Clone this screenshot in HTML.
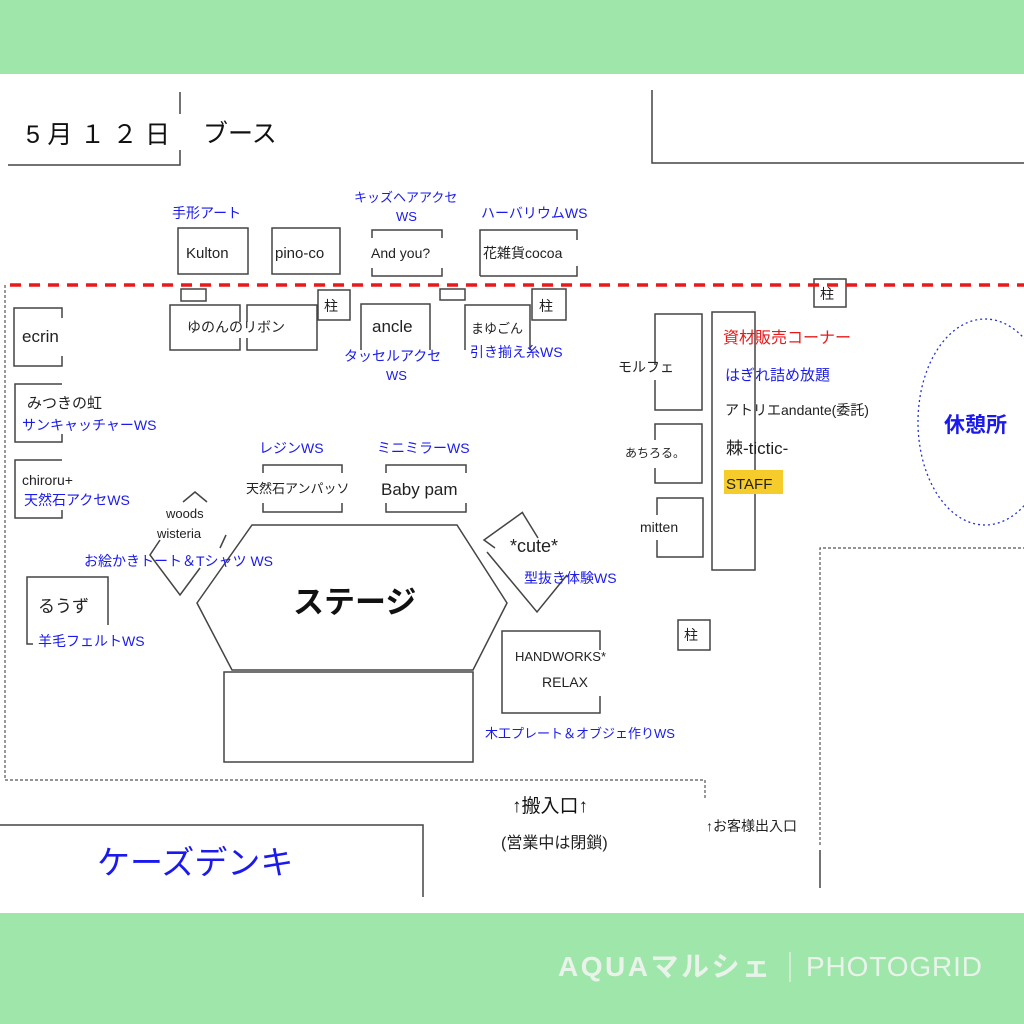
<!DOCTYPE html>
<html><head><meta charset="utf-8">
<style>
html,body{margin:0;padding:0;background:#fff;}
svg{display:block;}
text{font-family:"Liberation Sans","Noto Sans CJK JP",sans-serif;}
.b{fill:#1a1aee;font-size:14px;}
.k{fill:#222;font-size:15px;}
</style></head><body>
<svg width="1024" height="1024" viewBox="0 0 1024 1024" xmlns="http://www.w3.org/2000/svg">
<rect x="0" y="0" width="1024" height="74" fill="#9fe6ab"/>
<rect x="0" y="913" width="1024" height="111" fill="#9fe6ab"/>
<g stroke="#444" stroke-width="1.5" fill="none">
<polyline points="180,92 180,114"/><polyline points="180,150 180,165 8,165"/>
<polyline points="652,90 652,163 1024,163"/>
<rect x="178" y="228" width="70" height="46"/>
<rect x="272" y="228" width="68" height="46"/>
<polyline points="372,238 372,230 442,230 442,238"/><polyline points="372,268 372,276 442,276 442,268"/>
<polyline points="480,276 480,230 577,230 577,240"/><polyline points="577,266 577,276 480,276"/>
<rect x="181" y="289" width="25" height="12"/>
<rect x="440" y="289" width="25" height="11"/>
<polyline points="240,322 240,305 170,305 170,350 240,350 240,338"/>
<polyline points="247,322 247,305 317,305 317,350 247,350 247,338"/>
<rect x="318" y="290" width="32" height="30"/>
<polyline points="361,350 361,304 430,304 430,350"/>
<rect x="532" y="289" width="34" height="31"/>
<polyline points="465,350 465,305 530,305 530,350"/>
<rect x="814" y="279" width="32" height="28"/>
<polyline points="52,308 14,308 14,366 52,366"/><polyline points="52,308 62,308 62,318"/><polyline points="62,356 62,366 52,366"/>
<polyline points="62,384 15,384 15,442 62,442 62,434"/>
<polyline points="62,460 15,460 15,518 62,518 62,510"/>
<polyline points="108,625 108,577 27,577 27,644 33,644"/>
<polyline points="263,473 263,465 342,465 342,473"/><polyline points="263,503 263,512 342,512 342,503"/>
<polyline points="386,473 386,465 466,465 466,473"/><polyline points="386,503 386,512 466,512 466,503"/>
<polygon points="252,525 457,525 507,603 473,670 232,670 197,603"/>
<rect x="224" y="672" width="249" height="90" fill="#fff"/>
<polyline points="183,502 195,492 207,502"/>
<polyline points="160,540 150,555 180,595 200,568"/>
<polyline points="226,535 220,548"/>
<polyline points="523,512 484,540 495,548"/>
<polyline points="522,512 538,538"/>
<polyline points="487,552 537,612 567,575"/>
<polyline points="600,650 600,631 502,631 502,713 600,713 600,696"/>
<rect x="678" y="620" width="32" height="30"/>
<polyline points="655,365 655,314 702,314 702,410 655,410 655,380"/>
<polyline points="655,440 655,424 702,424 702,483 655,483 655,468"/>
<polyline points="657,515 657,498 703,498 703,557 657,557 657,540"/>
<rect x="712" y="312" width="43" height="258"/>
<polyline points="0,825 423,825 423,897"/>
<line x1="820" y1="850" x2="820" y2="888"/>
</g>
<line x1="10" y1="285" x2="1024" y2="285" stroke="#e8191a" stroke-width="3.5" stroke-dasharray="11,8"/>
<g stroke="#555" stroke-width="1.2" stroke-dasharray="3,2" fill="none">
<polyline points="5,285 5,780 705,780 705,800"/>
<polyline points="820,845 820,548 1024,548"/>
</g>
<ellipse cx="985" cy="422" rx="67" ry="103" fill="none" stroke="#2233cc" stroke-width="1.3" stroke-dasharray="2,3"/>
<rect x="724" y="470" width="59" height="24" fill="#f5cc2a"/>
<text x="26" y="143" textLength="144" style="font-size:25px;fill:#111">5月１２日</text>
<text x="203" y="142" style="font-size:25px;fill:#111">ブース</text>
<text class="b" x="172" y="218">手形アート</text>
<text class="b" x="354" y="202" style="font-size:13px">キッズヘアアクセ</text>
<text class="b" x="396" y="221" style="font-size:13px">WS</text>
<text class="b" x="481" y="218">ハーバリウムWS</text>
<text class="k" x="186" y="258">Kulton</text>
<text class="k" x="275" y="258">pino-co</text>
<text class="k" x="371" y="258" style="font-size:14px">And you?</text>
<text class="k" x="483" y="258" style="font-size:14px">花雑貨cocoa</text>
<text class="k" x="187" y="332" style="font-size:14px">ゆのんのリボン</text>
<text class="k" x="324" y="311" style="font-size:14px">柱</text>
<text class="k" x="372" y="332" style="font-size:17px">ancle</text>
<text class="k" x="539" y="311" style="font-size:14px">柱</text>
<text class="k" x="820" y="299" style="font-size:14px">柱</text>
<text class="k" x="471" y="333" style="font-size:13px">まゆごん</text>
<text class="b" x="344" y="361">タッセルアクセ</text>
<text class="b" x="386" y="380" style="font-size:13px">WS</text>
<text class="b" x="470" y="357">引き揃え糸WS</text>
<text class="k" x="22" y="342" style="font-size:17px">ecrin</text>
<text class="k" x="27" y="408">みつきの虹</text>
<text class="b" x="22" y="430">サンキャッチャーWS</text>
<text class="k" x="22" y="485" style="font-size:14px">chiroru+</text>
<text class="b" x="24" y="505">天然石アクセWS</text>
<text class="k" x="166" y="518" style="font-size:13px">woods</text>
<text class="k" x="157" y="538" style="font-size:13px">wisteria</text>
<text class="b" x="84" y="566">お絵かきトート＆Tシャツ WS</text>
<text class="k" x="38" y="612" style="font-size:17px">るうず</text>
<text class="b" x="38" y="646">羊毛フェルトWS</text>
<text class="b" x="259" y="453">レジンWS</text>
<text class="b" x="377" y="453">ミニミラーWS</text>
<text class="k" x="246" y="493" style="font-size:13px">天然石アンパッソ</text>
<text class="k" x="381" y="495" style="font-size:17px">Baby pam</text>
<text x="293" y="613" style="font-size:31px;font-weight:bold;fill:#111">ステージ</text>
<text class="k" x="510" y="552" style="font-size:18px">*cute*</text>
<text class="b" x="524" y="583">型抜き体験WS</text>
<text class="k" x="515" y="661" style="font-size:13px">HANDWORKS*</text>
<text class="k" x="542" y="687" style="font-size:14px">RELAX</text>
<text class="b" x="485" y="738" style="font-size:13px">木工プレート＆オブジェ作りWS</text>
<text class="k" x="684" y="640" style="font-size:14px">柱</text>
<text class="k" x="618" y="372" style="font-size:14px">モルフェ</text>
<text class="k" x="625" y="457" style="font-size:12px">あちろる。</text>
<text class="k" x="640" y="532" style="font-size:14px">mitten</text>
<text x="723" y="343" style="font-size:16px;fill:#e8191a">資材販売コーナー</text>
<text class="b" x="725" y="380" style="font-size:15px">はぎれ詰め放題</text>
<text class="k" x="725" y="415" style="font-size:14px">アトリエandante(委託)</text>
<text class="k" x="726" y="454" style="font-size:17px">棘-tictic-</text>
<text class="k" x="726" y="489" style="font-size:15px">STAFF</text>
<text x="944" y="432" style="font-size:21px;font-weight:bold;fill:#1a1aee">休憩所</text>
<text x="512" y="812" style="font-size:19px;fill:#111">↑搬入口↑</text>
<text x="501" y="848" style="font-size:16px;fill:#222">(営業中は閉鎖)</text>
<text x="706" y="831" style="font-size:14px;fill:#222">↑お客様出入口</text>
<text x="97" y="874" style="font-size:33px;fill:#1a1aee">ケーズデンキ</text>
<text x="558" y="976" textLength="212" style="font-size:28px;font-weight:bold;fill:#eaf3ea">AQUAマルシェ</text>
<line x1="790" y1="952" x2="790" y2="982" stroke="#dfeedf" stroke-width="1.5"/>
<text x="806" y="976" textLength="176" style="font-size:28px;fill:#eaf3ea">PHOTOGRID</text>
</svg>
</body></html>
